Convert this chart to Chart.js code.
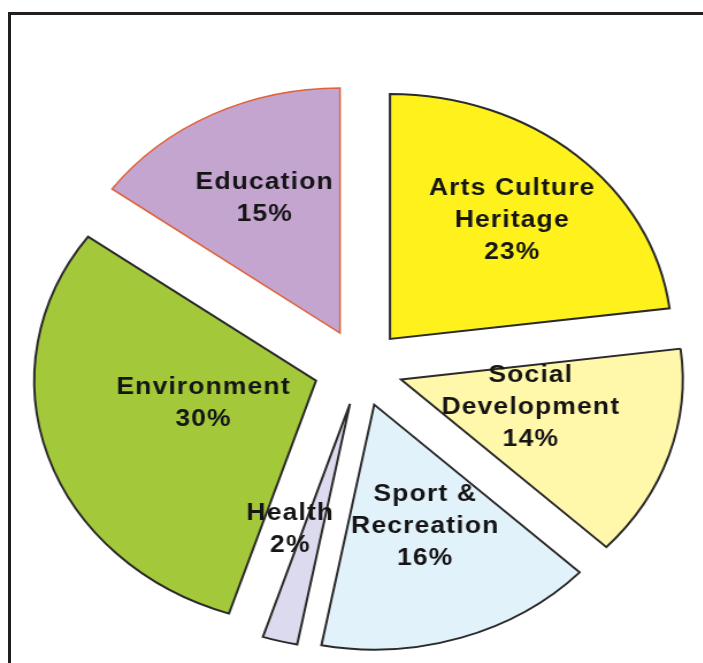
<!DOCTYPE html>
<html>
<head>
<meta charset="utf-8">
<script src="https://cdn.jsdelivr.net/npm/chart.js@4.4.1/dist/chart.umd.min.js"></script>
<style>
  html, body { margin: 0; padding: 0; background: #fff; overflow: hidden; }
  body { width: 703px; height: 663px; position: relative; }
  /* the source picture is stretched sideways, so the canvas is too */
  #wrap { position: absolute; left: 0; top: 0; width: 611px; height: 663px;
          transform: scaleX(1.15); transform-origin: 0 0; }
  #frame { position: absolute; left: 8px; top: 12px; width: 800px; height: 800px;
           border-left: 3px solid #231f20; border-top: 3px solid #231f20; }
</style>
</head>
<body>
<div id="frame"></div>
<div id="wrap"><canvas id="Grafico"></canvas></div>
<script>
// categories, clockwise from 12 o'clock
const categories = [
  ['Arts Culture', 'Heritage'],
  ['Social', 'Development'],
  ['Sport &', 'Recreation'],
  ['Health'],
  ['Environment'],
  ['Education']
];
// shares in percent
const shares = [23, 14, 16, 2, 30, 15];

const fills = ['#fff21c', '#fff7a9', '#e2f2fb', '#dcdaee', '#a3c93b', '#c4a5d0'];
const edges = ['#2a2a2a', '#2a2a2a', '#2a2a2a', '#2a2a2a', '#2a2a2a', '#e0623c'];

// pulls each slice away from the centre (pixels), without resizing it
const explodePlugin = {
  id: 'explode',
  afterUpdate(chart, args, opts) {
    const meta = chart.getDatasetMeta(0);
    meta.data.forEach((arc, i) => {
      const mid = (arc.startAngle + arc.endAngle) / 2;
      const d = opts.distance[i] || 0;
      arc.x += Math.cos(mid) * d;
      arc.y += Math.sin(mid) * d;
    });
  }
};

// name + percentage written inside every slice
const sliceLabels = {
  id: 'sliceLabels',
  afterDatasetsDraw(chart, args, opts) {
    const ctx = chart.ctx;
    const meta = chart.getDatasetMeta(0);
    const values = chart.data.datasets[0].data;
    ctx.save();
    ctx.font = opts.font;
    ctx.fillStyle = opts.color;
    ctx.textAlign = 'center';
    ctx.textBaseline = 'middle';
    ctx.letterSpacing = opts.spacing;
    meta.data.forEach((arc, i) => {
      const p = opts.place[i];
      const a = (arc.startAngle + arc.endAngle) / 2 + p.turn * Math.PI / 180;
      const r = arc.outerRadius * p.r;
      const x = arc.x + Math.cos(a) * r;
      const y = arc.y + Math.sin(a) * r;
      const lines = chart.data.labels[i].concat([values[i] + '%']);
      const top = y - (lines.length - 1) * opts.lineHeight / 2;
      lines.forEach((t, k) => ctx.fillText(t, x, top + k * opts.lineHeight));
    });
    ctx.restore();
  }
};

new Chart(document.getElementById('Grafico'), {
  type: 'pie',
  data: {
    labels: categories,
    datasets: [{
      data: shares,
      backgroundColor: fills,
      borderColor: edges,
      borderWidth: [2, 2, 2, 2, 2, 1.5],
      borderJoinStyle: 'miter'
    }]
  },
  options: {
    responsive: true,
    maintainAspectRatio: false,
    animation: false,
    radius: 245,
    layout: { padding: { left: 16, right: 0, top: 73, bottom: 0 } },
    plugins: {
      legend: { display: false },
      tooltip: { enabled: false },
      explode: { distance: [38.7, 37, 38.5, 37, 40.7, 39.3] },
      sliceLabels: {
        font: 'bold 23px "Liberation Sans", Arial, sans-serif',
        color: '#151515',
        spacing: '1px',
        lineHeight: 32,
        place: [
          { r: 0.65, turn: 0.5 },
          { r: 0.475, turn: -4 },
          { r: 0.53, turn: -2 },
          { r: 0.555, turn: 8 },
          { r: 0.41, turn: 4.7 },
          { r: 0.61, turn: 1 }
        ]
      }
    }
  },
  plugins: [explodePlugin, sliceLabels]
});
</script>
</body>
</html>
